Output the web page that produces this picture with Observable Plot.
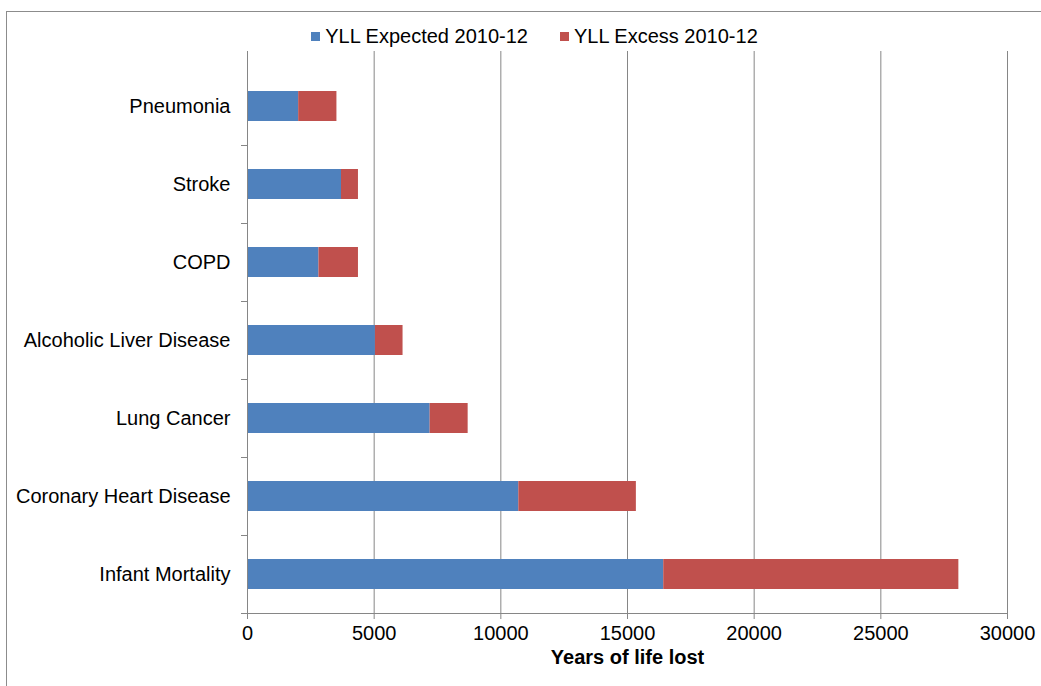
<!DOCTYPE html>
<html>
<head>
<meta charset="utf-8">
<script src="https://cdn.jsdelivr.net/npm/d3@7"></script>
<script src="https://cdn.jsdelivr.net/npm/@observablehq/plot@0.6"></script>
<style>
  html, body { margin: 0; padding: 0; background: #fff; overflow: hidden; width: 1041px; height: 686px; }
  #frame { position: absolute; left: 6px; top: 11px; width: 1100px; height: 800px; border: 1px solid #8c8c8c; }
  #chart { position: absolute; left: 0; top: 0; }
  #legend { position: absolute; top: 25px; left: 14px; width: 1041px; display: flex; justify-content: center; gap: 32px;
            font-family: "Liberation Sans", Arial, sans-serif; font-size: 20px; color: #000; }
  .item { display: flex; align-items: center; }
  .sw { width: 9px; height: 9px; margin-right: 5px; display: inline-block; }
</style>
</head>
<body>
<div id="frame"></div>
<div id="chart"></div>
<div id="legend"></div>
<script>
const categories = ["Pneumonia", "Stroke", "COPD", "Alcoholic Liver Disease", "Lung Cancer", "Coronary Heart Disease", "Infant Mortality"];
const expected = [2020, 3710, 2820, 5050, 7210, 10710, 16430];
const excess = [1510, 670, 1560, 1090, 1500, 4640, 11650];
const seriesNames = ["YLL Expected 2010-12", "YLL Excess 2010-12"];
const seriesColors = ["#4F81BD", "#C0504D"];
const xTicks = [0, 5000, 10000, 15000, 20000, 25000, 30000];
const xTitle = "Years of life lost";

const rows = [];
categories.forEach((c, i) => {
  rows.push({category: c, series: seriesNames[0], value: expected[i]});
  rows.push({category: c, series: seriesNames[1], value: excess[i]});
});

const plot = Plot.plot({
  width: 1041,
  height: 686,
  marginLeft: 247,
  marginRight: 34,
  marginTop: 51,
  marginBottom: 73,
  style: {fontFamily: "'Liberation Sans', Arial, sans-serif", fontSize: "20px", color: "#000", background: "transparent"},
  x: {domain: [0, 30000]},
  y: {domain: categories, range: [67, 613], paddingInner: 0.615, paddingOuter: 0.3075},
  color: {domain: seriesNames, range: seriesColors},
  marks: [
    Plot.gridX(xTicks.slice(1), {stroke: "#868686", strokeOpacity: 1, strokeWidth: 1}),
    Plot.barX(rows, Plot.stackX({x: "value", y: "category", fill: "series", order: seriesNames})),
    Plot.ruleX([0], {stroke: "#868686"}),
    Plot.frame({anchor: "bottom", stroke: "#868686"}),
    Plot.axisX({ticks: xTicks, tickFormat: d3.format("d"), tickSize: 6, tickPadding: 6, stroke: "#868686", label: null}),
    Plot.axisY({tickSize: 0, tickPadding: 17, label: null}),
    Plot.axisY({tickSize: 6, tickFormat: () => "", dy: 39, stroke: "#868686", label: null}),
    Plot.text([xTitle], {frameAnchor: "bottom", dy: 50, fontWeight: "bold", fontSize: 20, fill: "#000"})
  ]
});
document.getElementById("chart").appendChild(plot);

const legend = document.getElementById("legend");
seriesNames.forEach((name, i) => {
  const item = document.createElement("div");
  item.className = "item";
  const sw = document.createElement("span");
  sw.className = "sw";
  sw.style.background = seriesColors[i];
  item.appendChild(sw);
  item.appendChild(document.createTextNode(name));
  legend.appendChild(item);
});
</script>
</body>
</html>
